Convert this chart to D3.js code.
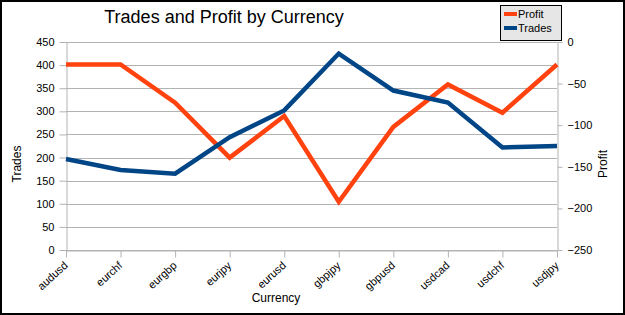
<!DOCTYPE html>
<html>
<head>
<meta charset="utf-8">
<script src="https://cdn.jsdelivr.net/npm/d3@7"></script>
<style>
  body { margin: 0; background: #fff; }
  svg { display: block; font-family: "Liberation Sans", Arial, sans-serif; }
</style>
</head>
<body>
<div id="chart"></div>
<script>
// chart data
var currencies = ["audusd", "eurchf", "eurgbp", "eurjpy", "eurusd", "gbpjpy", "gbpusd", "usdcad", "usdchf", "usdjpy"];
var trades = [197, 173, 165, 244, 302, 425, 345, 319, 222, 225];
var profit = [-27, -27, -73, -139, -89, -192, -102, -51, -85, -27];
var tradeTicks = [0, 50, 100, 150, 200, 250, 300, 350, 400, 450];
var profitTicks = [-250, -200, -150, -100, -50, 0];

var width = 625;
var height = 315;

var plotLeft = 66, plotRight = 557, plotTop = 42, plotBottom = 250;

var red = "#ff420e";
var blue = "#004586";
var grid = "#b3b3b3";

var svg = d3.select("#chart")
    .append("svg")
    .attr("width", width)
    .attr("height", height);

// frame
svg.append("rect")
    .attr("x", 1)
    .attr("y", 1)
    .attr("width", width - 2)
    .attr("height", height - 2)
    .style("fill", "#fff")
    .style("stroke", "#000")
    .style("stroke-width", 2);

var x = d3.scalePoint()
    .domain(currencies)
    .range([plotLeft, plotRight]);

var yTrades = d3.scaleLinear()
    .domain([0, 450])
    .range([plotBottom, plotTop]);

var yProfit = d3.scaleLinear()
    .domain([-250, 0])
    .range([plotBottom, plotTop]);

// gridlines
svg.append("g")
    .selectAll("line")
    .data(tradeTicks)
    .enter()
    .append("line")
    .attr("x1", plotLeft)
    .attr("x2", plotRight)
    .attr("y1", function(d) { return Math.round(yTrades(d)) + 0.5; })
    .attr("y2", function(d) { return Math.round(yTrades(d)) + 0.5; })
    .style("stroke", grid)
    .style("stroke-width", 1);

// axes
var axisLeft = svg.append("g")
    .attr("transform", "translate(" + (plotLeft + 0.5) + ",0)")
    .call(d3.axisLeft(yTrades).tickValues(tradeTicks).tickSize(7).tickSizeOuter(0).tickPadding(5));

var axisRight = svg.append("g")
    .attr("transform", "translate(" + (plotRight + 0.5) + ",0)")
    .call(d3.axisRight(yProfit).tickValues(profitTicks).tickSize(5).tickSizeOuter(0).tickPadding(5));

var axisBottom = svg.append("g")
    .attr("transform", "translate(0," + (plotBottom + 0.5) + ")")
    .call(d3.axisBottom(x).tickSize(7).tickSizeOuter(0));

[axisLeft, axisRight, axisBottom].forEach(function(a) {
    a.selectAll("path, line").style("stroke", grid);
    a.selectAll("text")
        .style("font-size", "11px")
        .style("fill", "#000")
        .style("font-family", "Liberation Sans, Arial, sans-serif");
});

axisBottom.selectAll("text")
    .attr("text-anchor", "end")
    .attr("dx", null)
    .attr("dy", null)
    .attr("y", 0)
    .attr("transform", "translate(2,16) rotate(-42)");

// lines
var lineTrades = d3.line()
    .x(function(d, i) { return x(currencies[i]); })
    .y(function(d) { return yTrades(d); });

var lineProfit = d3.line()
    .x(function(d, i) { return x(currencies[i]); })
    .y(function(d) { return yProfit(d); });

svg.append("path")
    .datum(profit)
    .attr("d", lineProfit)
    .style("fill", "none")
    .style("stroke", red)
    .style("stroke-width", 4.5);

svg.append("path")
    .datum(trades)
    .attr("d", lineTrades)
    .style("fill", "none")
    .style("stroke", blue)
    .style("stroke-width", 4.5);

// titles
svg.append("text")
    .attr("x", 224)
    .attr("y", 23)
    .attr("text-anchor", "middle")
    .style("font-size", "18px")
    .style("fill", "#000")
    .text("Trades and Profit by Currency");

svg.append("text")
    .attr("transform", "translate(21,164) rotate(-90)")
    .attr("text-anchor", "middle")
    .style("font-size", "12px")
    .text("Trades");

svg.append("text")
    .attr("transform", "translate(607,164) rotate(-90)")
    .attr("text-anchor", "middle")
    .style("font-size", "12px")
    .text("Profit");

svg.append("text")
    .attr("x", 276)
    .attr("y", 302)
    .attr("text-anchor", "middle")
    .style("font-size", "12px")
    .text("Currency");

// legend
var legend = svg.append("g");

legend.append("rect")
    .attr("x", 500.5)
    .attr("y", 5.5)
    .attr("width", 61)
    .attr("height", 35)
    .style("fill", "#e6e6e6")
    .style("stroke", "#000")
    .style("stroke-width", 1);

var legendItems = [["Profit", red], ["Trades", blue]];

legend.selectAll("line")
    .data(legendItems)
    .enter()
    .append("line")
    .attr("x1", 504)
    .attr("x2", 517)
    .attr("y1", function(d, i) { return 14 + i * 14; })
    .attr("y2", function(d, i) { return 14 + i * 14; })
    .style("stroke", function(d) { return d[1]; })
    .style("stroke-width", 4);

legend.selectAll("text")
    .data(legendItems)
    .enter()
    .append("text")
    .attr("x", 518)
    .attr("y", function(d, i) { return 18 + i * 14; })
    .style("font-size", "11px")
    .text(function(d) { return d[0]; });
</script>
</body>
</html>
